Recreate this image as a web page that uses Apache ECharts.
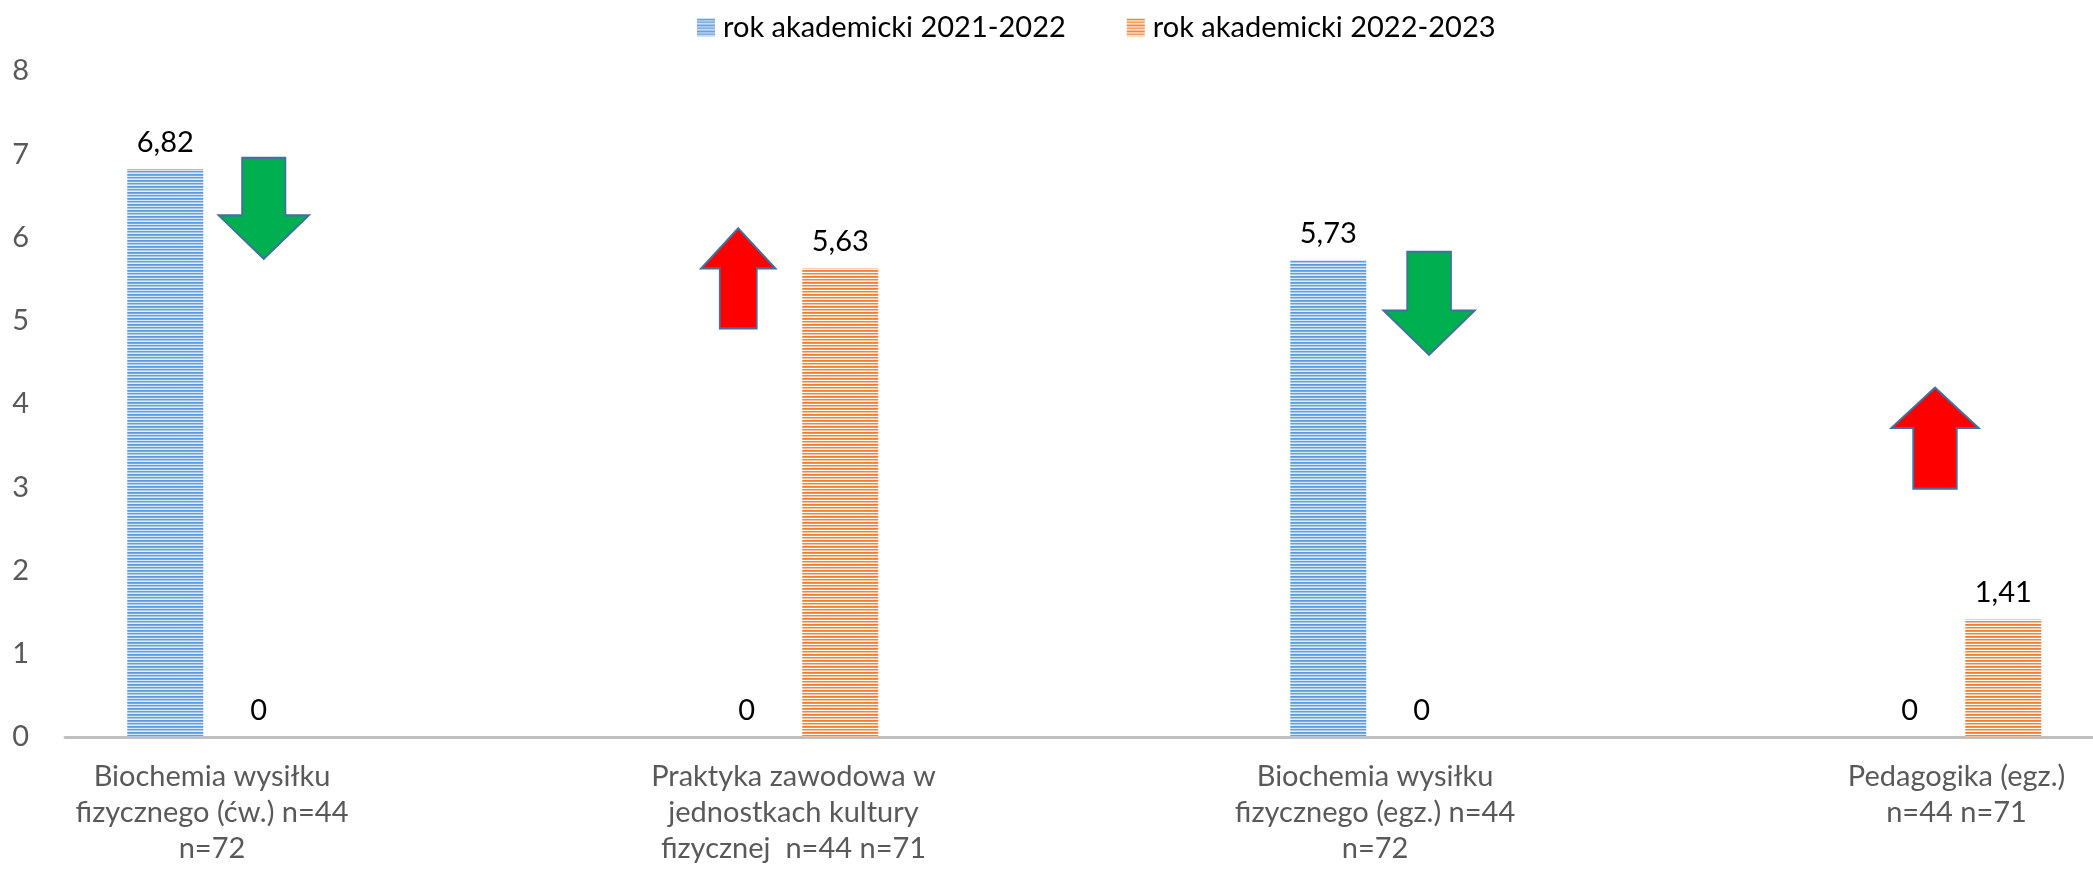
<!DOCTYPE html>
<html>
<head>
<meta charset="utf-8">
<script src="https://cdn.jsdelivr.net/npm/echarts@6/dist/echarts.min.js"></script>
<style>
html,body{margin:0;padding:0;background:#fff;}
#chart{width:2093px;height:871px;}
</style>
</head>
<body>
<div id="chart"></div>
<script>
// ---- data ----
const categories = [
  'Biochemia wysiłku\nfizycznego (ćw.) n=44\nn=72',
  'Praktyka zawodowa w\njednostkach kultury\nfizycznej  n=44 n=71',
  'Biochemia wysiłku\nfizycznego (egz.) n=44\nn=72',
  'Pedagogika (egz.)\nn=44 n=71'
];
const seriesNames = ['rok akademicki 2021-2022', 'rok akademicki 2022-2023'];
const values2122 = [6.82, 0, 5.73, 0];
const values2223 = [0, 5.63, 0, 1.41];
// trend arrows (annotations) in data units: x = category position, y = arrow centre value
const arrowX = [0.089, 0.905, 2.093, 2.963];
const arrowY = [6.35, 5.51, 5.21, 3.59];
const arrowDir = ['down', 'up', 'down', 'up'];

// ---- styles ----
const FONT = 'Lato';
const arrowSize = [[90, 101], [74, 100], [91, 103], [87, 101]];
const arrowPaths = {
  down: 'path://M26,0 L74,0 L74,57 L100,57 L50,100 L0,57 L26,57 Z',
  up: 'path://M50,0 L100,40 L75,40 L75,100 L25,100 L25,40 L0,40 Z'
};
const arrowColors = { down: '#00B050', up: '#FF0000' };

function stripes(rows) {
  const c = document.createElement('canvas');
  c.width = 4; c.height = rows.length;
  const ctx = c.getContext('2d');
  rows.forEach((col, i) => { ctx.fillStyle = col; ctx.fillRect(0, i, 4, 1); });
  return { image: c, repeat: 'repeat' };
}
const bluePattern = stripes(['#5B9BD5', '#78ACDF', '#D6E6F5', '#649FD8', '#A9C9EC', '#E6EFF9']);
const orangePattern = stripes(['#ED7D31', '#F19456', '#FFFFFF', '#EE8440', '#F7BE98', '#FFFFFF']);

const fmt = p => String(p.value[1]).replace('.', ',');

const chart = echarts.init(document.getElementById('chart'), null, { renderer: 'canvas' });
chart.setOption({
  animation: false,
  backgroundColor: '#ffffff',
  textStyle: { fontFamily: FONT },
  legend: {
    data: seriesNames,
    top: 8,
    left: 692,
    itemWidth: 18,
    itemHeight: 18,
    itemGap: 61,
    textStyle: { fontSize: 29, color: '#000', fontFamily: FONT, padding: [0, 0, 0, 3] },
    icon: 'rect'
  },
  grid: { left: 65, right: 0, top: 71, bottom: 134, containLabel: false },
  xAxis: {
    type: 'value',
    min: -0.2528,
    max: 3.2347,
    splitLine: { show: false },
    axisTick: { show: false },
    axisLine: { show: true, onZero: false, lineStyle: { color: '#BFBFBF', width: 3 } },
    axisLabel: {
      customValues: [0, 1, 2, 3],
      formatter: v => categories[Math.round(v)],
      color: '#595959',
      fontSize: 29,
      lineHeight: 36,
      margin: 22,
      fontFamily: FONT,
      align: 'center'
    }
  },
  yAxis: {
    type: 'value',
    min: 0,
    max: 8,
    interval: 1,
    splitLine: { show: false },
    axisLine: { show: false },
    axisTick: { show: false },
    axisLabel: { color: '#595959', fontSize: 29, margin: 36, fontFamily: FONT }
  },
  series: [
    {
      name: seriesNames[0],
      type: 'bar',
      barWidth: 76,
      barGap: '23%',
      data: values2122.map((v, i) => [i, v]),
      itemStyle: { color: bluePattern },
      label: { show: true, position: 'top', distance: 12, formatter: fmt, color: '#000', fontSize: 29, fontFamily: FONT }
    },
    {
      name: seriesNames[1],
      type: 'bar',
      barWidth: 76,
      barGap: '23%',
      data: values2223.map((v, i) => [i, v]),
      itemStyle: { color: orangePattern },
      label: { show: true, position: 'top', distance: 12, formatter: fmt, color: '#000', fontSize: 29, fontFamily: FONT }
    },
    {
      name: 'arrows',
      type: 'scatter',
      silent: true,
      z: 5,
      data: arrowX.map((x, i) => ({
        value: [x, arrowY[i]],
        symbol: arrowPaths[arrowDir[i]],
        symbolSize: arrowSize[i],
        symbolKeepAspect: false,
        itemStyle: { color: arrowColors[arrowDir[i]], borderColor: '#41719C', borderWidth: 2, opacity: 1 }
      }))
    }
  ]
});
</script>
</body>
</html>
